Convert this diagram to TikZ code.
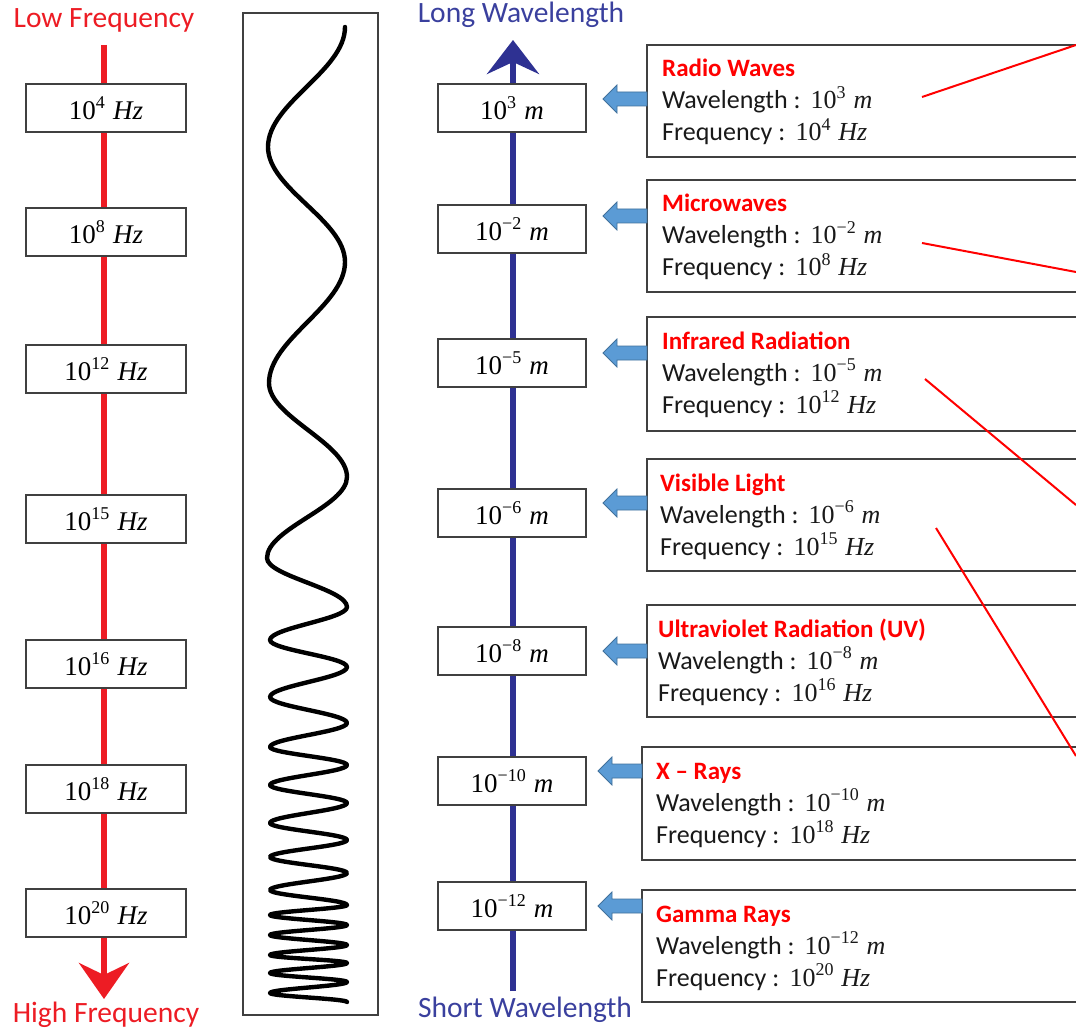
\RequirePackage{fix-cm}
\documentclass[tikz,border=0pt]{standalone}
\usepackage[no-math]{fontspec}
\setmainfont{Carlito}
\newfontfamily\numserif{Liberation Serif}
\usetikzlibrary{arrows.meta}

\definecolor{freqred}{RGB}{237,28,36}
\definecolor{titlered}{RGB}{255,0,0}
\definecolor{waveblue}{RGB}{46,49,146}
\definecolor{wavetext}{RGB}{58,64,158}
\definecolor{arrowfill}{RGB}{91,155,213}
\definecolor{arrowedge}{RGB}{65,113,156}
\definecolor{framegray}{RGB}{64,64,64}
\definecolor{inktext}{RGB}{25,25,25}

% power of ten followed by an italic unit, in a serif face
\newcommand\tenpow[2]{{\numserif 10\raisebox{0.42em}{\fontsize{18}{18}\selectfont #1}\hspace{0.3em}\textit{#2}}}

\begin{document}
\begin{tikzpicture}[x=1pt,y=-1pt,
  axislabel/.style={inner sep=0pt, font=\fontsize{29.5}{33}\selectfont},
  valbox/.style={draw=framegray, line width=1.4pt, fill=white, inner sep=0pt,
    minimum height=48pt, text=black, font=\fontsize{27}{30}\selectfont},
  fbox/.style={valbox, minimum width=160pt},
  wbox/.style={valbox, minimum width=148pt},
  freqaxis/.style={draw=freqred, line width=5.5pt,
    -{Stealth[length=36pt,width=50pt,inset=12pt]}},
  wlaxis/.style={draw=waveblue, line width=5.5pt,
    -{Stealth[length=34pt,width=52pt,inset=12pt]}},
  infoframe/.style={draw=framegray, line width=1.4pt},
  titletext/.style={inner sep=0pt, text=titlered, font=\bfseries\fontsize{25}{28}\selectfont},
  infotext/.style={inner sep=0pt, text=inktext, font=\fontsize{26}{30}\selectfont},
  blockarrow/.style={fill=arrowfill, draw=arrowedge, line width=0.8pt, line join=miter},
  pointer/.style={draw=titlered, line width=2pt},
  wave/.style={draw=black, line width=4.4pt, line cap=round, line join=round},
]
\useasboundingbox (0,0) rectangle (1076,1032);
\fill[white] (0,0) rectangle (1076,1032);

% axis labels
\node[axislabel, text=freqred] (lowf) at (104,20) {Low Frequency};
\node[axislabel, text=freqred] (highf) at (106,1015) {High Frequency};
\node[axislabel, text=wavetext] (longw) at (521,15) {Long Wavelength};
\node[axislabel, text=wavetext] (shortw) at (525,1010) {Short Wavelength};

% frequency axis (pointing down) and wavelength axis (pointing up)
\coordinate (ftop) at (104,45);
\coordinate (ftip) at (104,999);
\draw[freqaxis] (ftop) -- (ftip);
\coordinate (wbot) at (513,991);
\coordinate (wtip) at (513,40);
\draw[wlaxis] (wbot) -- (wtip);

% framed wave, wavelength shrinking downwards
\node[draw=framegray, line width=2.6pt, minimum width=135pt, minimum height=1002pt,
  inner sep=0pt] (wavebox) at (310.5,514) {};
\draw[wave] (345,27)
  .. controls +(0,44) and +(0,-44) .. (268,147)
  .. controls +(0,42) and +(0,-42) .. (345,262)
  .. controls +(0,44) and +(0,-44) .. (269,383)
  .. controls +(0,34) and +(0,-34) .. (347,477)
  .. controls +(0,29.5) and +(0,-29.5) .. (267,558)
  .. controls +(0,18) and +(0,-18) .. (347,607)
  .. controls +(0,12) and +(0,-12) .. (270,640)
  .. controls +(0,10) and +(0,-10) .. (347,667)
  .. controls +(0,11) and +(0,-11) .. (270,697)
  .. controls +(0,9.5) and +(0,-9.5) .. (347,723)
  .. controls +(0,8.7) and +(0,-8.7) .. (270,747)
  .. controls +(0,6.6) and +(0,-6.6) .. (347,765)
  .. controls +(0,7.3) and +(0,-7.3) .. (270,785)
  .. controls +(0,6.6) and +(0,-6.6) .. (347,803)
  .. controls +(0,7.3) and +(0,-7.3) .. (270,823)
  .. controls +(0,6.2) and +(0,-6.2) .. (347,840)
  .. controls +(0,6.2) and +(0,-6.2) .. (270,857)
  .. controls +(0,5.8) and +(0,-5.8) .. (347,873)
  .. controls +(0,6.2) and +(0,-6.2) .. (270,890)
  .. controls +(0,5.5) and +(0,-5.5) .. (347,905)
  .. controls +(0,3.6) and +(0,-3.6) .. (270,915)
  .. controls +(0,3.6) and +(0,-3.6) .. (347,925)
  .. controls +(0,3.6) and +(0,-3.6) .. (270,935)
  .. controls +(0,3.6) and +(0,-3.6) .. (347,945)
  .. controls +(0,3.6) and +(0,-3.6) .. (270,955)
  .. controls +(0,3.0) and +(0,-3.0) .. (347,963)
  .. controls +(0,3.6) and +(0,-3.6) .. (270,973)
  .. controls +(0,3.4) and +(0,-3.4) .. (347,982)
  .. controls +(0,4.0) and +(0,-4.0) .. (270,993)
  .. controls +(0,3.3) and +(0,-3.3) .. (347,1002);

% one row per band: frequency box, wavelength box, pointer arrow, info panel
\foreach \i/\fy/\fe/\wy/\we/\ay/\bt/\bb/\bl/\tx/\ttl in {
  1/108/4/108/3/99/45/157/647/662/Radio Waves,
  2/232/8/229/−2/216/180/292/647/662/Microwaves,
  3/369/12/363/−5/353/317/431/647/662/Infrared Radiation,
  4/519/15/513/−6/503/459/571/647/660/Visible Light,
  5/664/16/651/−8/651/605/717/647/658/Ultraviolet Radiation (UV),
  6/789/18/781/−10/771/747/860/642/656/X – Rays,
  7/913/20/906/−12/906/890/1002/642/656/Gamma Rays}{
  \node[fbox] (f\i) at (106,\fy) {\tenpow{\fe}{Hz}};
  \node[wbox] (w\i) at (512,\wy) {\tenpow{\we}{m}};
  \draw[infoframe] (1080,\bt) -- (\bl,\bt) -- (\bl,\bb) -- (1080,\bb);
  \coordinate (panel\i) at (\bl,\ay);
  \draw[blockarrow] (\bl,\ay-7) -- (\bl-30,\ay-7) -- (\bl-30,\ay-14)
    -- (\bl-44,\ay) -- (\bl-30,\ay+14) -- (\bl-30,\ay+7) -- (\bl,\ay+7) -- cycle;
  \node[titletext, anchor=base west] (t\i) at (\tx,\bt+32) {\ttl};
  \node[infotext, anchor=base west] (wl\i) at (\tx,\bt+64) {Wavelength :\ \,\tenpow{\we}{m}};
  \node[infotext, anchor=base west] (fq\i) at (\tx,\bt+96) {Frequency :\ \,\tenpow{\fe}{Hz}};
}

% red leader lines running off to the right
\coordinate (a1) at (922,97);   \coordinate (b1) at (1076,45);
\coordinate (a2) at (922,243);  \coordinate (b2) at (1076,272);
\coordinate (a3) at (925,379);  \coordinate (b3) at (1076,505);
\coordinate (a4) at (936,528);  \coordinate (b4) at (1076,756);
\draw[pointer] (a1) -- (b1);
\draw[pointer] (a2) -- (b2);
\draw[pointer] (a3) -- (b3);
\draw[pointer] (a4) -- (b4);
\end{tikzpicture}
\end{document}
